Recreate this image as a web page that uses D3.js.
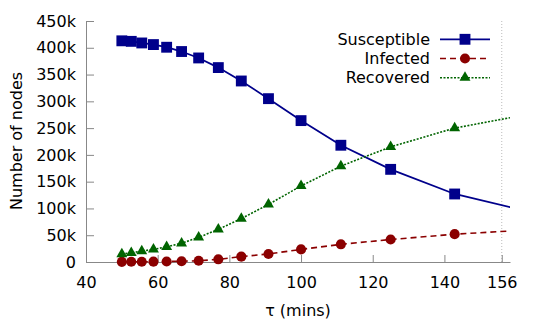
<!DOCTYPE html>
<html>
<head>
<meta charset="utf-8">
<script src="https://cdn.jsdelivr.net/npm/d3@7"></script>
<style>
  body { margin: 0; background: #fff; }
  svg { font-family: "DejaVu Sans", sans-serif; }
  .axis path, .axis line { stroke: #888; }
  .axis text { fill: #000; font-size: 16px; font-family: "DejaVu Sans", sans-serif; }
</style>
</head>
<body>
<svg width="540" height="324"></svg>
<script>
// tau values (mins), last one sits past the right edge and gets clipped
var tau = [50, 52.63, 55.56, 58.82, 62.5, 66.67, 71.43, 76.92, 83.33, 90.91, 100, 111.11, 125, 142.86, 166.67];
var susceptible = [413000, 412000, 409000, 406000, 401000, 393000, 381000, 363000, 338000, 305000, 264000, 218000, 173000, 127000, 89000];
var infected = [300, 400, 500, 700, 1000, 1500, 2300, 5000, 10000, 15000, 23500, 33000, 42000, 52000, 61000];
var recovered = [15000, 17000, 20500, 23500, 28500, 35000, 46000, 61000, 81000, 107500, 142000, 179000, 215000, 250000, 280000];

var xTicks = [40, 60, 80, 100, 120, 140, 156];
var yTicks = [0, 50000, 100000, 150000, 200000, 250000, 300000, 350000, 400000, 450000];

var svg = d3.select("svg"),
    width = +svg.attr("width"),
    height = +svg.attr("height");

var x = d3.scaleLinear()
    .domain([40, 158.3])
    .range([86, 510]);

var y = d3.scaleLinear()
    .domain([0, 450000])
    .range([262, 21]);

var series = [
  {name: "Susceptible", values: susceptible, color: "#00008b", dash: null, width: 1.8, symbol: d3.symbolSquare, size: 118},
  {name: "Infected", values: infected, color: "#8b0000", dash: "6,4", width: 1.6, symbol: d3.symbolCircle, size: 80},
  {name: "Recovered", values: recovered, color: "#006400", dash: "2,1.5", width: 1.6, symbol: d3.symbolTriangle, size: 52}
];

svg.append("defs").append("clipPath")
    .attr("id", "clip")
  .append("rect")
    .attr("x", 0)
    .attr("y", 0)
    .attr("width", x.range()[1])
    .attr("height", height);

// dotted marker line at 156
svg.append("line")
    .attr("x1", x(156)).attr("x2", x(156))
    .attr("y1", y.range()[1]).attr("y2", y.range()[0])
    .attr("stroke", "#bbb")
    .attr("stroke-dasharray", "1,2");

svg.append("g")
    .attr("class", "axis")
    .attr("transform", "translate(0," + y.range()[0] + ")")
    .call(d3.axisBottom(x)
      .tickValues(xTicks)
      .tickSize(-7)
      .tickSizeOuter(0)
      .tickPadding(14.5)
      .tickFormat(d3.format("d")));

svg.append("g")
    .attr("class", "axis")
    .attr("transform", "translate(" + x.range()[0] + ",0)")
    .call(d3.axisLeft(y)
      .tickValues(yTicks)
      .tickSize(-8)
      .tickSizeOuter(0)
      .tickPadding(10)
      .tickFormat(function(d) { return d == 0 ? "0" : (d / 1000) + "k"; }));

svg.append("text")
    .attr("transform", "translate(21.5,141) rotate(-90)")
    .attr("text-anchor", "middle")
    .attr("font-size", 16)
    .text("Number of nodes");

svg.append("text")
    .attr("x", 298)
    .attr("y", 316)
    .attr("text-anchor", "middle")
    .attr("font-size", 16)
    .text("τ (mins)");

var line = d3.line()
    .x(function(d) { return x(d[0]); })
    .y(function(d) { return y(d[1]); });

var plot = svg.append("g").attr("clip-path", "url(#clip)");

series.forEach(function(s) {
  var pts = tau.map(function(t, i) { return [t, s.values[i]]; });
  plot.append("path")
      .datum(pts)
      .attr("fill", "none")
      .attr("stroke", s.color)
      .attr("stroke-width", s.width)
      .attr("stroke-dasharray", s.dash)
      .attr("d", line);
  plot.selectAll(null)
      .data(pts.filter(function(d) { return d[0] <= x.domain()[1]; }))
    .enter().append("path")
      .attr("transform", function(d) { return "translate(" + x(d[0]) + "," + y(d[1]) + ")"; })
      .attr("d", d3.symbol().type(s.symbol).size(s.size))
      .attr("fill", s.color);
});

// legend
var legend = svg.append("g");
series.forEach(function(s, i) {
  var ly = 39.3 + i * 19.2;
  legend.append("text")
      .attr("x", 430)
      .attr("y", ly + 5.5)
      .attr("text-anchor", "end")
      .attr("font-size", 16)
      .text(s.name);
  legend.append("line")
      .attr("x1", 440).attr("x2", 490)
      .attr("y1", ly).attr("y2", ly)
      .attr("stroke", s.color)
      .attr("stroke-width", s.width)
      .attr("stroke-dasharray", s.dash);
  legend.append("path")
      .attr("transform", "translate(465," + ly + ")")
      .attr("d", d3.symbol().type(s.symbol).size(s.size))
      .attr("fill", s.color);
});
</script>
</body>
</html>
